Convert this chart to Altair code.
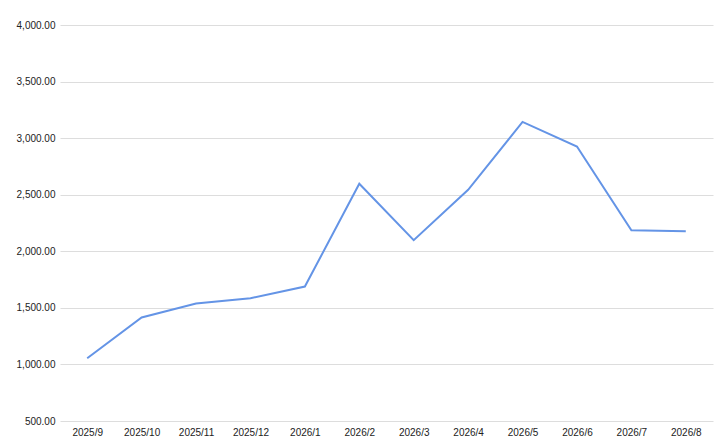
import pandas as pd
import altair as alt

# Monthly values
months = ['2025/9', '2025/10', '2025/11', '2025/12', '2026/1', '2026/2',
          '2026/3', '2026/4', '2026/5', '2026/6', '2026/7', '2026/8']
values = [1055, 1415, 1538, 1585, 1688, 2597,
          2098, 2543, 3143, 2926, 2185, 2178]
y_ticks = [500, 1000, 1500, 2000, 2500, 3000, 3500, 4000]

df = pd.DataFrame({'Month': months, 'Value': values})

chart = alt.Chart(df).mark_line(color='#6494e6', strokeWidth=2).encode(
    x=alt.X('Month:N', sort=months, title=None,
            scale=alt.Scale(type='point', padding=0.5),
            axis=alt.Axis(labelAngle=0, ticks=False, domain=False, grid=False,
                          labelPadding=6, labelFontSize=10, labelColor='#222222',
                          labelFont='Liberation Sans')),
    y=alt.Y('Value:Q', title=None,
            scale=alt.Scale(domain=[500, 4000], nice=False, zero=False),
            axis=alt.Axis(values=y_ticks, format=',.2f', ticks=False, domain=False,
                          labelPadding=5, labelFontSize=10, labelColor='#222222',
                          labelFont='Liberation Sans', gridColor='#dddddd'))
).properties(
    width=653,
    height=396,
    autosize=alt.AutoSizeParams(type='none'),
    padding={'left': 52, 'top': 17, 'right': 6, 'bottom': 18}
).configure_view(stroke=None)

chart.save("out.html", embed_options={"renderer": "svg", "actions": False})
